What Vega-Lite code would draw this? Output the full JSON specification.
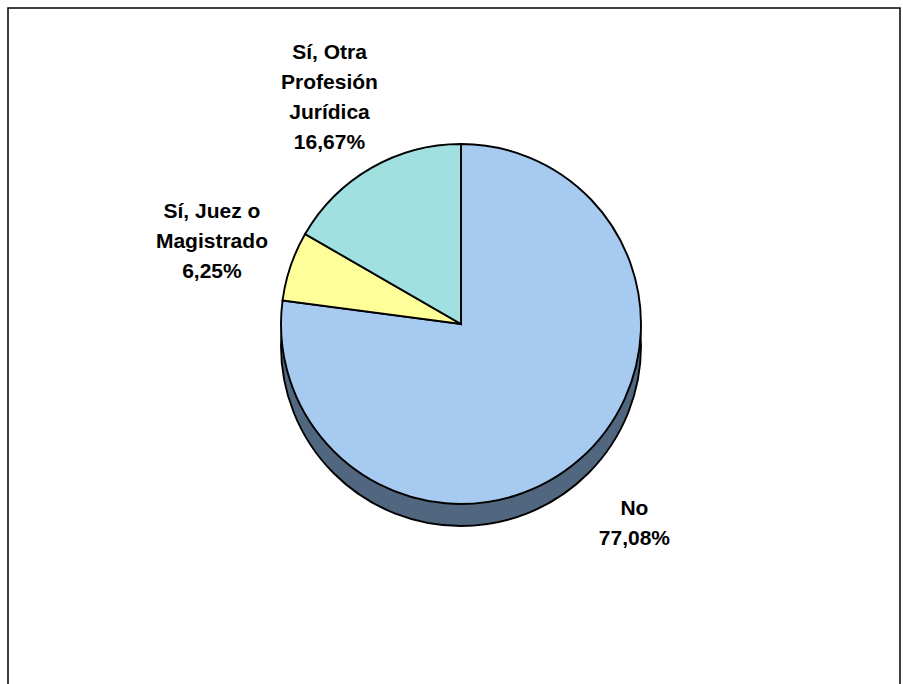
{
  "$schema": "https://vega.github.io/schema/vega-lite/v6.json",
  "width": 892,
  "height": 700,
  "padding": {"left": 8, "top": 8, "right": 3, "bottom": 0},
  "background": "white",
  "view": {"stroke": "black", "strokeWidth": 1.5, "fill": "white"},
  "config": {
    "view": {"stroke": "black", "strokeWidth": 1.5},
    "text": {"font": "Liberation Sans"}
  },
  "data": {
    "values": [
      {"categoria": "No", "valor": 77.08, "etiqueta": ["No", "77,08%"]},
      {"categoria": "Sí, Juez o Magistrado", "valor": 6.25, "etiqueta": ["Sí, Juez o", "Magistrado", "6,25%"]},
      {"categoria": "Sí, Otra Profesión Jurídica", "valor": 16.67, "etiqueta": ["Sí, Otra", "Profesión", "Jurídica", "16,67%"]}
    ]
  },
  "layer": [
    {
      "mark": {"type": "arc", "outerRadius": 180, "fill": "#51667F", "stroke": "black", "strokeWidth": 1.9, "xOffset": 7, "yOffset": -12},
      "encoding": {
        "theta": {"aggregate": "sum", "field": "valor", "type": "quantitative"}
      }
    },
    {
      "mark": {"type": "arc", "outerRadius": 180, "stroke": "black", "strokeWidth": 1.9, "xOffset": 7, "yOffset": -34},
      "encoding": {
        "theta": {"field": "valor", "type": "quantitative", "stack": true, "sort": null},
        "color": {
          "field": "categoria",
          "type": "nominal",
          "sort": null,
          "legend": null,
          "scale": {
            "domain": ["No", "Sí, Juez o Magistrado", "Sí, Otra Profesión Jurídica"],
            "range": ["#A6CAF0", "#FFFF99", "#A0E0E0"]
          }
        }
      }
    },
    {
      "mark": {"type": "text", "radius": 263, "fontSize": 21, "fontWeight": "bold", "lineHeight": 30, "align": "center", "baseline": "middle", "color": "black", "xOffset": 7, "yOffset": -32, "dy": {"expr": "-(length(datum.etiqueta) - 1) * 15"}},
      "encoding": {
        "theta": {"field": "valor", "type": "quantitative", "stack": true, "sort": null},
        "text": {"field": "etiqueta"}
      }
    }
  ]
}
